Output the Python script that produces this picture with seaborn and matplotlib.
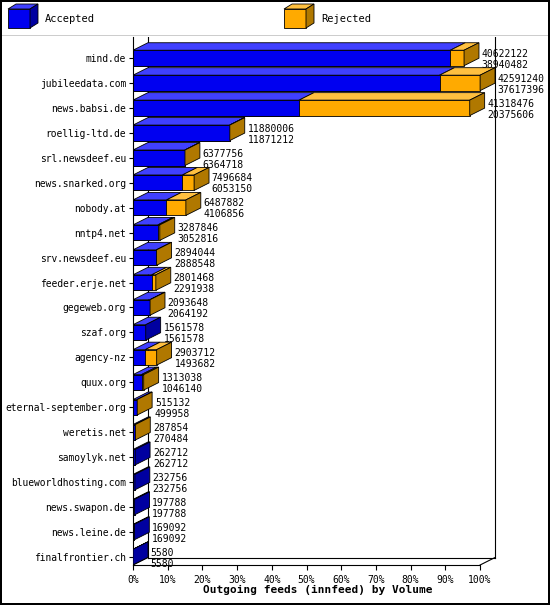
import matplotlib
matplotlib.use("Agg")
import matplotlib.pyplot as plt
from matplotlib.patches import Polygon, Rectangle
import seaborn as sns
import pandas as pd

# ── Data ────────────────────────────────────────────────────
names = ["mind.de", "jubileedata.com", "news.babsi.de", "roellig-ltd.de",
         "srl.newsdeef.eu", "news.snarked.org", "nobody.at", "nntp4.net",
         "srv.newsdeef.eu", "feeder.erje.net", "gegeweb.org", "szaf.org",
         "agency-nz", "quux.org", "eternal-september.org", "weretis.net",
         "samoylyk.net", "blueworldhosting.com", "news.swapon.de",
         "news.leine.de", "finalfrontier.ch"]
offered = [40622122, 42591240, 41318476, 11880006, 6377756, 7496684, 6487882,
           3287846, 2894044, 2801468, 2093648, 1561578, 2903712, 1313038,
           515132, 287854, 262712, 232756, 197788, 169092, 5580]
accepted = [38940482, 37617396, 20375606, 11871212, 6364718, 6053150, 4106856,
            3052816, 2888548, 2291938, 2064192, 1561578, 1493682, 1046140,
            499958, 270484, 262712, 232756, 197788, 169092, 5580]
ticks = list(range(0, 101, 10))

vmax = max(offered)
df = pd.DataFrame({"name": names,
                   "tot": [v / vmax * 100 for v in offered],
                   "acc": [v / vmax * 100 for v in accepted]})

BLUE, BLUE_TOP, BLUE_SIDE = "#0000f0", "#4040ff", "#0000a0"
ORANGE, ORANGE_TOP, ORANGE_SIDE = "#ffaa00", "#ffc040", "#b07800"
MONO = "DejaVu Sans Mono"
H = 0.62
DX, DY = 4.3, 0.3

fig = plt.figure(figsize=(5.5, 6.05), dpi=100)
fig.patch.set_edgecolor("black")
fig.patch.set_linewidth(1.5)

ax = fig.add_axes([133 / 550, 1 - 565 / 605, 370 / 550, 528 / 605])
sns.barplot(data=df, x="tot", y="name", orient="h", color=ORANGE, width=H,
            saturation=1, ax=ax, edgecolor="black", linewidth=0.6, zorder=2)
sns.barplot(data=df, x="acc", y="name", orient="h", color=BLUE, width=H,
            saturation=1, ax=ax, edgecolor="black", linewidth=0.6, zorder=2)

def face_top(x0, x1, y, col):
    yt = y - H / 2
    ax.add_patch(Polygon([(x0, yt), (x1, yt), (x1 + DX, yt - DY), (x0 + DX, yt - DY)],
                         closed=True, fc=col, ec="black", lw=0.6, zorder=3))

def face_side(x1, y, col):
    yt, yb = y - H / 2, y + H / 2
    ax.add_patch(Polygon([(x1, yt), (x1, yb), (x1 + DX, yb - DY), (x1 + DX, yt - DY)],
                         closed=True, fc=col, ec="black", lw=0.6, zorder=3))

for i, row in df.iterrows():
    face_top(0, row["acc"], i, BLUE_TOP)
    if row["tot"] > row["acc"]:
        face_top(row["acc"], row["tot"], i, ORANGE_TOP)
        face_side(row["tot"], i, ORANGE_SIDE)
    else:
        face_side(row["tot"], i, BLUE_SIDE)
    ax.text(row["tot"] + DX + 0.8, i - 0.17, f"{offered[i]}", fontsize=7,
            family=MONO, va="center", ha="left")
    ax.text(row["tot"] + DX + 0.8, i + 0.27, f"{accepted[i]}", fontsize=7,
            family=MONO, va="center", ha="left")

ybot = 20.32
ax.set_ylim(ybot, -0.84)
ax.set_xlim(0, 106.6)
kw = dict(color="black", lw=0.8, zorder=0)
ax.plot([DX, DX], [ybot - DY, -0.84], **kw)
ax.plot([0, DX], [ybot, ybot - DY], **kw)
ax.plot([100, 100 + DX], [ybot, ybot - DY], **kw)
ax.plot([DX, 100 + DX], [ybot - DY, ybot - DY], **kw)
ax.plot([100 + DX, 100 + DX], [ybot - DY, -0.84], **kw)
for s in ["top", "right"]:
    ax.spines[s].set_visible(False)
ax.spines["bottom"].set_bounds(0, 100)
ax.set_xticks(ticks)
ax.set_xticklabels([f"{t}%" for t in ticks], family=MONO, fontsize=7)
ax.tick_params(axis="y", labelsize=6.9, length=3, pad=2)
for lab in ax.get_yticklabels():
    lab.set_family(MONO)
ax.set_ylabel("")
ax.set_xlabel("Outgoing feeds (innfeed) by Volume", family=MONO,
              fontsize=8, fontweight="bold", labelpad=0)

# ── Legend strip ────────────────────────────────────────────
lg = fig.add_axes([0, 1 - 36 / 605, 1, 36 / 605])
lg.set_xlim(0, 550)
lg.set_ylim(36, 0)
lg.axis("off")
lg.plot([0, 550], [35.5, 35.5], color="black", lw=1)
for x0, fc, top, side, lab in [(8, BLUE, BLUE_TOP, BLUE_SIDE, "Accepted"),
                               (284, ORANGE, ORANGE_TOP, ORANGE_SIDE, "Rejected")]:
    lg.add_patch(Rectangle((x0, 9), 22, 19, fc=fc, ec="black", lw=0.6))
    lg.add_patch(Polygon([(x0, 9), (x0 + 22, 9), (x0 + 30, 4), (x0 + 8, 4)],
                         fc=top, ec="black", lw=0.6))
    lg.add_patch(Polygon([(x0 + 22, 9), (x0 + 22, 28), (x0 + 30, 23), (x0 + 30, 4)],
                         fc=side, ec="black", lw=0.6))
    lg.text(x0 + 37, 19, lab, family=MONO, fontsize=7.5, va="center")

fig.savefig("out.png", dpi=100)
